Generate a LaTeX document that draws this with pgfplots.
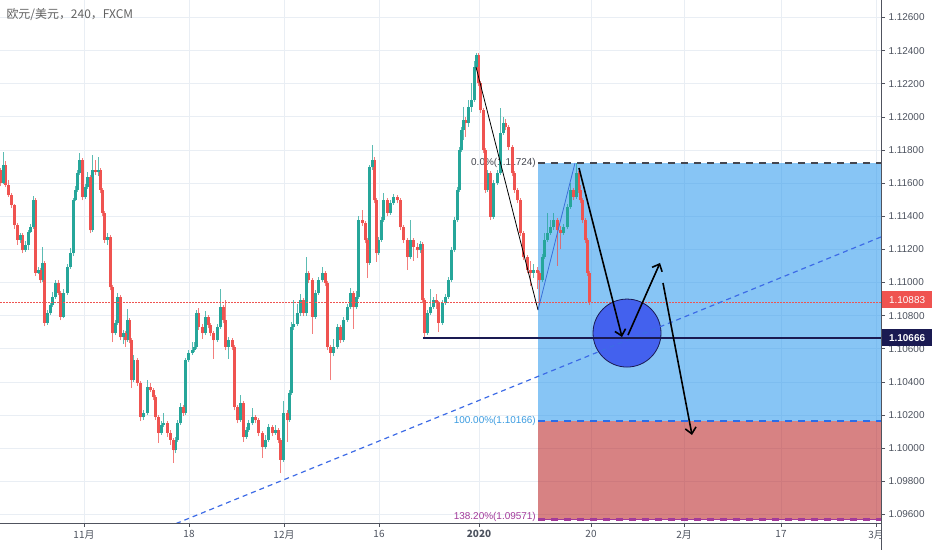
\documentclass[border=0pt]{standalone}
\usepackage{fontspec}
\setmainfont{Liberation Sans}
\newfontfamily\cjk{Noto Sans CJK SC}
\usepackage{pgfplots}
\usepackage{pgfplotstable}
\pgfplotsset{compat=1.18}
\usetikzlibrary{arrows.meta}

\definecolor{upc}{HTML}{26A69A}
\definecolor{dnc}{HTML}{EF5350}
\definecolor{gridc}{HTML}{E9EEF4}
\definecolor{axc}{HTML}{50535E}
\definecolor{lblc}{HTML}{4C525E}
\definecolor{boxblue}{HTML}{2596ED}
\definecolor{boxred}{HTML}{B61C1E}
\definecolor{navy}{HTML}{1A1A52}
\definecolor{trend}{HTML}{3D6BE6}
\definecolor{circ}{HTML}{4361EE}
\definecolor{purp}{HTML}{A23A9A}
\definecolor{pctblue}{HTML}{3A9BE0}
\definecolor{dline}{HTML}{44464F}
\definecolor{zzblue}{HTML}{3A6FD8}

% EUR/USD 4h candles: x = horizontal position, o h l c = prices
\pgfplotstableread{
x o h l c
0 1.11679 1.11691 1.11581 1.11601
3 1.11601 1.11788 1.11593 1.11709
5 1.11709 1.11734 1.11574 1.11589
8 1.11589 1.11619 1.11518 1.11528
11 1.11528 1.11540 1.11448 1.11468
14 1.11468 1.11476 1.11322 1.11347
17 1.11347 1.11362 1.11227 1.11257
20 1.11257 1.11297 1.11239 1.11287
22 1.11287 1.11299 1.11176 1.11196
25 1.11196 1.11252 1.11186 1.11227
28 1.11227 1.11320 1.11197 1.11305
30 1.11305 1.11355 1.11297 1.11335
33 1.11335 1.11523 1.11325 1.11498
35 1.11498 1.11510 1.11038 1.11058
38 1.11058 1.11096 1.11050 1.11076
40 1.11076 1.11088 1.10995 1.11015
42 1.11015 1.11215 1.11005 1.11118
44 1.11118 1.11130 1.10736 1.10756
47 1.10756 1.10836 1.10746 1.10816
50 1.10816 1.10879 1.10806 1.10864
52 1.10864 1.10943 1.10854 1.10913
55 1.10913 1.11015 1.10901 1.10997
58 1.10997 1.11017 1.10922 1.10937
60 1.10937 1.10949 1.10772 1.10792
63 1.10792 1.10962 1.10784 1.10937
67 1.10937 1.11109 1.10927 1.11094
70 1.11094 1.11208 1.11084 1.11178
73 1.11178 1.11510 1.11158 1.11498
75 1.11498 1.11584 1.11490 1.11559
77 1.11559 1.11681 1.11549 1.11661
79 1.11661 1.11782 1.11651 1.11740
82 1.11740 1.11752 1.11496 1.11516
85 1.11516 1.11597 1.11506 1.11577
87 1.11577 1.11667 1.11565 1.11637
90 1.11637 1.11649 1.11297 1.11317
92 1.11317 1.11770 1.11307 1.11679
95 1.11679 1.11740 1.11650 1.11667
98 1.11667 1.11760 1.11640 1.11679
100 1.11679 1.11691 1.11539 1.11559
102 1.11559 1.11571 1.11400 1.11420
104 1.11420 1.11432 1.11237 1.11257
107 1.11257 1.11300 1.11227 1.11275
110 1.11275 1.11287 1.10953 1.10973
112 1.10973 1.10985 1.10641 1.10695
115 1.10695 1.10776 1.10683 1.10756
117 1.10756 1.10937 1.10746 1.10913
120 1.10913 1.10925 1.10651 1.10671
123 1.10671 1.10715 1.10631 1.10695
125 1.10695 1.10710 1.10611 1.10653
127 1.10653 1.10840 1.10643 1.10774
129 1.10774 1.10786 1.10633 1.10653
131 1.10653 1.10665 1.10364 1.10412
133 1.10412 1.10560 1.10400 1.10532
137 1.10532 1.10545 1.10374 1.10394
140 1.10394 1.10406 1.10164 1.10188
143 1.10188 1.10233 1.10170 1.10213
147 1.10213 1.10412 1.10203 1.10369
150 1.10369 1.10394 1.10339 1.10351
153 1.10351 1.10363 1.10289 1.10309
155 1.10309 1.10321 1.10170 1.10188
158 1.10188 1.10200 1.10030 1.10092
161 1.10092 1.10164 1.10080 1.10140
163 1.10140 1.10213 1.10128 1.10152
167 1.10152 1.10164 1.10068 1.10092
170 1.10092 1.10110 1.10020 1.10050
173 1.10050 1.10062 1.09910 1.09989
175 1.09989 1.10070 1.09969 1.10050
177 1.10050 1.10172 1.10040 1.10152
180 1.10152 1.10273 1.10140 1.10249
183 1.10249 1.10261 1.10195 1.10213
185 1.10213 1.10544 1.10201 1.10532
188 1.10532 1.10595 1.10520 1.10575
192 1.10575 1.10640 1.10563 1.10593
194 1.10593 1.10640 1.10580 1.10611
196 1.10611 1.10836 1.10601 1.10816
198 1.10816 1.10846 1.10712 1.10732
202 1.10732 1.10750 1.10660 1.10695
205 1.10695 1.10830 1.10683 1.10792
208 1.10792 1.10804 1.10724 1.10744
210 1.10744 1.10756 1.10675 1.10695
213 1.10695 1.10707 1.10540 1.10653
217 1.10653 1.10752 1.10643 1.10732
220 1.10732 1.10960 1.10720 1.10852
223 1.10852 1.10864 1.10754 1.10774
225 1.10774 1.10895 1.10591 1.10611
228 1.10611 1.10673 1.10540 1.10653
232 1.10653 1.10665 1.10590 1.10611
234 1.10611 1.10623 1.10229 1.10249
237 1.10249 1.10261 1.10150 1.10170
240 1.10170 1.10320 1.10160 1.10273
243 1.10273 1.10285 1.10040 1.10068
246 1.10068 1.10130 1.10056 1.10110
248 1.10110 1.10172 1.10098 1.10152
252 1.10152 1.10240 1.10140 1.10188
255 1.10188 1.10200 1.10150 1.10170
258 1.10170 1.10182 1.10072 1.10092
262 1.10092 1.10104 1.09940 1.10007
265 1.10007 1.10080 1.09995 1.10050
268 1.10050 1.10148 1.10040 1.10128
272 1.10128 1.10140 1.10072 1.10092
275 1.10092 1.10140 1.10080 1.10110
278 1.10110 1.10122 1.10030 1.10050
280 1.10050 1.10062 1.09850 1.09929
283 1.09929 1.10285 1.09917 1.10213
287 1.10213 1.10233 1.10040 1.10170
289 1.10170 1.10353 1.10160 1.10333
291 1.10333 1.10760 1.10321 1.10732
293 1.10732 1.10895 1.10712 1.10750
297 1.10750 1.10870 1.10738 1.10816
300 1.10816 1.10930 1.10796 1.10895
303 1.10895 1.10907 1.10796 1.10816
306 1.10816 1.11154 1.10800 1.11058
308 1.11058 1.11070 1.10995 1.11015
312 1.11015 1.11027 1.10690 1.10792
315 1.10792 1.10957 1.10780 1.10937
318 1.10937 1.11035 1.10925 1.11015
322 1.11015 1.11094 1.11003 1.11058
325 1.11058 1.11070 1.10977 1.10997
327 1.10997 1.11009 1.10591 1.10611
330 1.10611 1.10623 1.10410 1.10575
333 1.10575 1.10660 1.10555 1.10611
337 1.10611 1.10752 1.10599 1.10732
340 1.10732 1.10744 1.10633 1.10653
343 1.10653 1.10794 1.10641 1.10774
347 1.10774 1.10872 1.10762 1.10852
350 1.10852 1.10967 1.10840 1.10937
353 1.10937 1.10949 1.10720 1.10852
356 1.10852 1.10950 1.10840 1.10913
358 1.10913 1.11400 1.10901 1.11377
362 1.11377 1.11438 1.11340 1.11360
365 1.11360 1.11372 1.11237 1.11257
367 1.11257 1.11269 1.11027 1.11118
369 1.11118 1.11709 1.11106 1.11697
372 1.11697 1.11830 1.11680 1.11740
374 1.11740 1.11760 1.11478 1.11498
376 1.11498 1.11510 1.11124 1.11178
378 1.11178 1.11277 1.11166 1.11257
381 1.11257 1.11397 1.11245 1.11377
383 1.11377 1.11540 1.11365 1.11498
387 1.11498 1.11510 1.11400 1.11420
390 1.11420 1.11500 1.11408 1.11480
393 1.11480 1.11536 1.11468 1.11516
397 1.11516 1.11528 1.11478 1.11498
400 1.11498 1.11510 1.11315 1.11335
403 1.11335 1.11347 1.11237 1.11257
407 1.11257 1.11269 1.11076 1.11154
410 1.11154 1.11380 1.11140 1.11257
413 1.11257 1.11269 1.11130 1.11215
417 1.11215 1.11240 1.11150 1.11196
420 1.11196 1.11250 1.11180 1.11230
422 1.11230 1.11242 1.10875 1.10895
424 1.10895 1.10907 1.10666 1.10695
427 1.10695 1.10836 1.10683 1.10816
430 1.10816 1.10960 1.10804 1.10852
433 1.10852 1.10915 1.10840 1.10895
436 1.10895 1.10930 1.10840 1.10876
438 1.10876 1.10888 1.10700 1.10756
442 1.10756 1.10896 1.10744 1.10876
445 1.10876 1.10933 1.10864 1.10913
448 1.10913 1.11035 1.10901 1.11015
451 1.11015 1.11216 1.11003 1.11196
454 1.11196 1.11397 1.11184 1.11377
457 1.11377 1.11579 1.11365 1.11559
459 1.11559 1.11820 1.11547 1.11800
461 1.11800 1.11941 1.11788 1.11921
463 1.11921 1.12060 1.11860 1.11981
465 1.11981 1.12000 1.11880 1.11963
468 1.11963 1.12100 1.11940 1.12060
471 1.12060 1.12204 1.12030 1.12102
474 1.12102 1.12340 1.12090 1.12301
476 1.12301 1.12386 1.12280 1.12373
478 1.12373 1.12386 1.12184 1.12204
480 1.12204 1.12216 1.12021 1.12041
483 1.12041 1.12053 1.11780 1.11800
485 1.11800 1.11812 1.11539 1.11559
487 1.11559 1.11681 1.11547 1.11661
490 1.11661 1.11673 1.11377 1.11396
493 1.11396 1.11621 1.11384 1.11601
497 1.11601 1.11681 1.11589 1.11661
500 1.11661 1.12054 1.11649 1.11903
503 1.11903 1.12000 1.11891 1.11963
505 1.11963 1.11990 1.11919 1.11939
508 1.11939 1.11951 1.11798 1.11818
512 1.11818 1.11830 1.11641 1.11661
514 1.11661 1.11673 1.11539 1.11559
517 1.11559 1.11571 1.11478 1.11498
520 1.11498 1.11510 1.11279 1.11299
523 1.11299 1.11311 1.11134 1.11154
527 1.11154 1.11166 1.11056 1.11076
530 1.11076 1.11130 1.10980 1.11058
533 1.11058 1.11110 1.11030 1.11076
537 1.11076 1.11096 1.10960 1.11058
539 1.11058 1.11070 1.10864 1.11015
542 1.11015 1.11174 1.11003 1.11154
544 1.11154 1.11300 1.11142 1.11257
547 1.11257 1.11420 1.11245 1.11299
550 1.11299 1.11380 1.11287 1.11335
553 1.11335 1.11420 1.11320 1.11377
557 1.11377 1.11389 1.11100 1.11317
560 1.11317 1.11340 1.11200 1.11299
563 1.11299 1.11355 1.11287 1.11335
567 1.11335 1.11476 1.11323 1.11456
570 1.11456 1.11600 1.11444 1.11559
573 1.11559 1.11571 1.11496 1.11516
576 1.11516 1.11722 1.11504 1.11661
578 1.11661 1.11673 1.11539 1.11559
580 1.11559 1.11590 1.11478 1.11498
582 1.11498 1.11510 1.11357 1.11377
585 1.11377 1.11389 1.11237 1.11257
587 1.11257 1.11269 1.11038 1.11058
589 1.11058 1.11070 1.10864 1.10883
}\candles

\begin{document}
\begin{tikzpicture}
\begin{axis}[
    at={(0,27bp)}, anchor=south west,
    scale only axis,
    width=881bp, height=523bp,
    xmin=0, xmax=881,
    ymin=1.095485, ymax=1.127054,
    axis x line=bottom,
    axis y line=right,
    axis line style={-, draw=axc, line width=0.8bp},
    tick align=outside,
    major tick length=4bp,
    tick style={draw=axc, line width=0.6bp},
    grid=major,
    major grid style={draw=gridc, line width=0.8bp},
    xtick={84,189,284,379,479,591,684,781,876},
    xticklabels={11月,18,12月,16,\textbf{2020},20,2月,17,3月},
    x tick label style={font=\cjk\fontsize{10}{12}\selectfont, text=lblc},
    ytick={1.096,1.098,1.100,1.102,1.104,1.106,1.108,1.110,1.112,1.114,1.116,1.118,1.120,1.122,1.124,1.126},
    scaled y ticks=false,
    y tick label style={font=\fontsize{10}{12}\selectfont, text=lblc,
        /pgf/number format/.cd, fixed, fixed zerofill, precision=5, assume math mode=true},
    wick/.style={mark=none, forget plot, line width=0.7bp,
        quiver={u=0, v=\thisrow{h}-\thisrow{l},
            every arrow/.append style={-, line width=0.7bp, draw opacity=0.75}}},
    candlebody/.style={mark=none, forget plot, line width=0.6bp,
        quiver={u=0, v=abs(\thisrow{c}-\thisrow{o}),
            every arrow/.append style={-, line width=0.6bp}}},
]
% position box: profit (blue) and stop (red) zones
\addplot[draw=none, fill=boxblue, fill opacity=0.55, forget plot]
    coordinates {(538,1.10166) (881,1.10166) (881,1.11724) (538,1.11724)} -- cycle;
\addplot[draw=none, fill=boxred, fill opacity=0.55, forget plot]
    coordinates {(538,1.09571) (881,1.09571) (881,1.10166) (538,1.10166)} -- cycle;

\node[anchor=east, text=dline, font=\fontsize{10}{12}\selectfont, inner sep=1bp]
    at (axis cs:537,1.11724) {0.0\%(1.11724)};
\node[anchor=east, text=pctblue, font=\fontsize{10}{12}\selectfont, inner sep=1bp]
    at (axis cs:537,1.10166) {100.00\%(1.10166)};
\node[anchor=east, text=purp, font=\fontsize{10}{12}\selectfont, inner sep=1bp]
    at (axis cs:537,1.09585) {138.20\%(1.09571)};

% candles: wicks, then bodies (bodies built from side-by-side strokes)
\addplot[upc, wick, restrict expr to domain={\thisrow{c}-\thisrow{o}}{0:1}]
    table[x=x, y=l] {\candles};
\addplot[dnc, wick, restrict expr to domain={\thisrow{o}-\thisrow{c}}{0:1}]
    table[x=x, y=l] {\candles};
\pgfplotsinvokeforeach{-1.0,-0.5,0,0.5,1.0}{
  \addplot[upc, candlebody, restrict expr to domain={\thisrow{c}-\thisrow{o}}{0:1}]
      table[x expr=\thisrow{x}+#1, y=o] {\candles};
  \addplot[dnc, candlebody, restrict expr to domain={\thisrow{o}-\thisrow{c}}{0:1}]
      table[x expr=\thisrow{x}+#1, y=c] {\candles};
}

% fib levels
\addplot[dline, line width=2bp, dash pattern=on 7bp off 6bp, forget plot]
    coordinates {(538,1.11724) (881,1.11724)};
\addplot[pctblue!70!blue, line width=1.8bp, dash pattern=on 7bp off 6bp, forget plot]
    coordinates {(538,1.10166) (881,1.10166)};
\addplot[purp, line width=0.8bp, forget plot]
    coordinates {(538,1.09571) (881,1.09571)};
\addplot[purp, line width=2.5bp, dash pattern=on 7bp off 6bp, forget plot]
    coordinates {(538,1.09571) (881,1.09571)};

% last price line
\addplot[dnc, line width=0.8bp, dash pattern=on 1.5bp off 1.5bp, forget plot]
    coordinates {(0,1.10883) (881,1.10883)};

% zigzag
\addplot[black, line width=0.8bp, forget plot]
    coordinates {(476,1.12301) (538,1.10834)};
\addplot[zzblue, line width=0.8bp, forget plot]
    coordinates {(538,1.10834) (575,1.11722)};

% target circle
\fill[circ, draw=navy, line width=0.8bp] (axis cs:627,1.10695) circle[radius=34bp];

% rising trend line
\addplot[trend, line width=1.2bp, dash pattern=on 5bp off 4bp, forget plot]
    coordinates {(176,1.09545) (881,1.11275)};

% support level
\addplot[navy, line width=2bp, forget plot]
    coordinates {(423,1.10666) (881,1.10666)};

% forecast arrows
\draw[black, line width=1.6bp, -{Straight Barb[length=6bp, width=11bp]}]
    (axis cs:579,1.11691) -- (axis cs:622,1.10671);
\draw[black, line width=1.6bp, -{Straight Barb[length=6bp, width=11bp]}]
    (axis cs:628,1.10683) -- (axis cs:660,1.11118);
\draw[black, line width=1.6bp, -{Straight Barb[length=6bp, width=11bp]}]
    (axis cs:663,1.10997) -- (axis cs:692,1.10080);
\end{axis}

\draw[axc, line width=0.8bp] (881bp,0) -- (881bp,27bp);
\node[fill=dnc, text=white, minimum width=51bp, minimum height=17bp, inner sep=0pt,
    anchor=west, font=\fontsize{10}{12}\selectfont] at (881.4bp,250bp) {1.10883};
\node[fill=navy, text=white, minimum width=51bp, minimum height=17bp, inner sep=0pt,
    anchor=west, font=\bfseries\fontsize{10}{12}\selectfont] at (881.4bp,212bp) {1.10666};
\node[anchor=west, text=black!62, font=\cjk\fontsize{12}{14}\selectfont]
    at (3bp,535bp) {欧元/美元，240，FXCM};

\pgfresetboundingbox
\useasboundingbox (0,0) rectangle (932bp,550bp);
\end{tikzpicture}
\end{document}
